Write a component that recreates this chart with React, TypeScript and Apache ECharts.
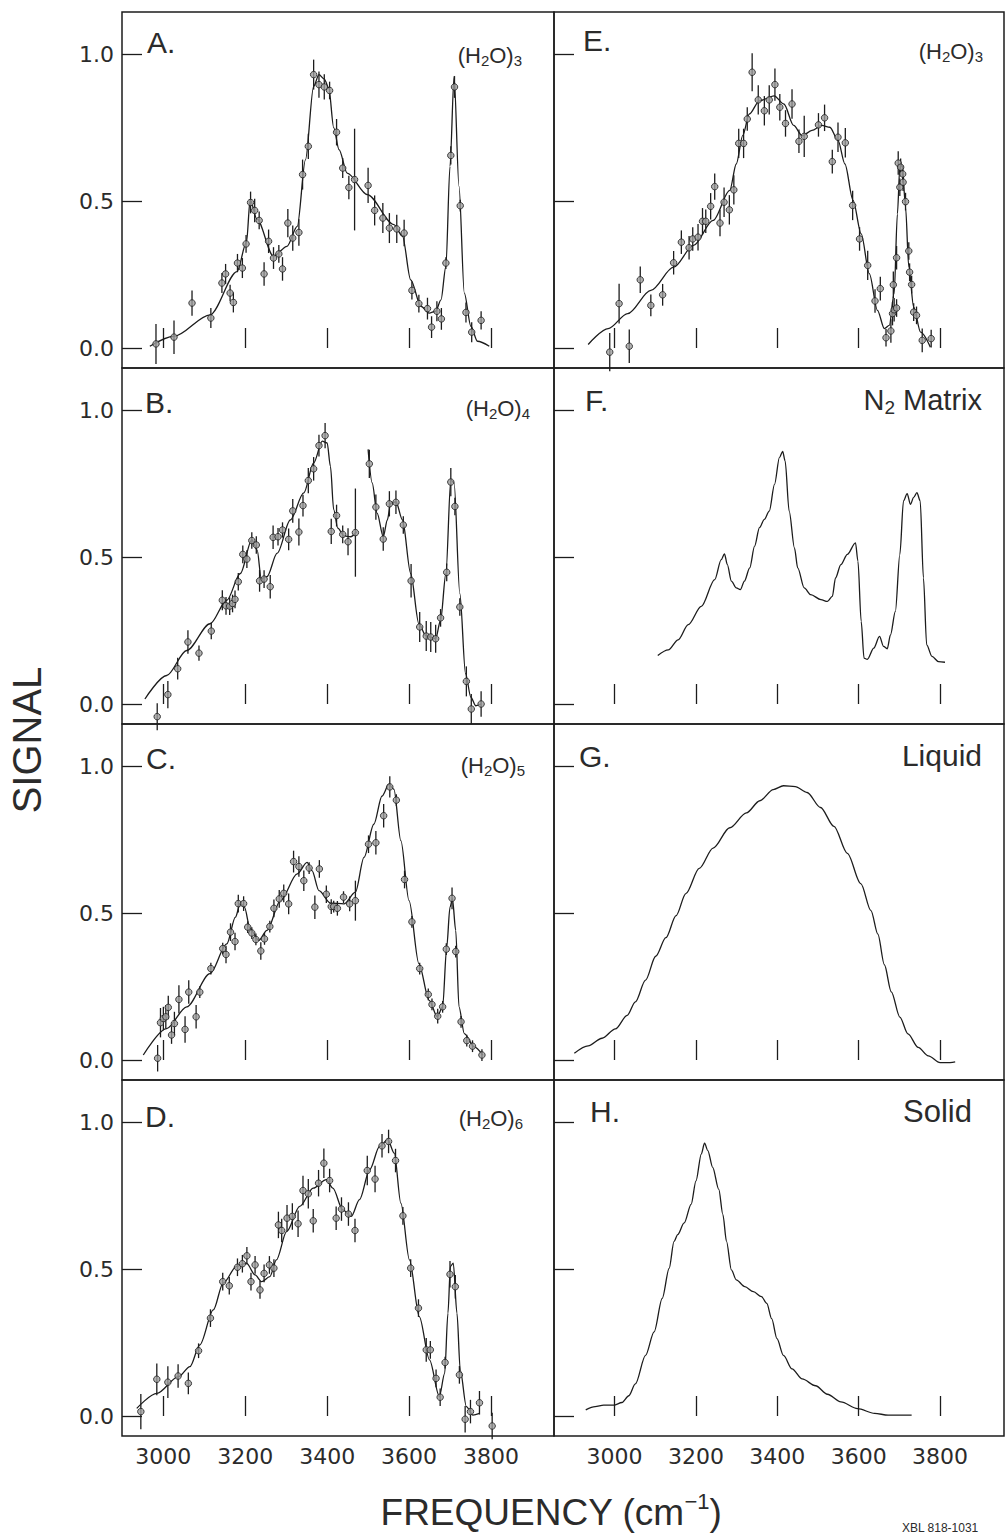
import React, { useEffect, useRef } from "react";
import * as echarts from "echarts";

const FONT = "'Liberation Sans', Arial, Helvetica, sans-serif";
const NUMFONT = "'DejaVu Sans', Verdana, sans-serif";
const INK = "#1c1c1c";
const TXT = "#2b2b2b";

const xTicks = [3000, 3200, 3400, 3600, 3800];
const yTicks = [0, 0.5, 1.0];

// [frequency, signal, half error bar]
const pointsA = [
  [2982, 0.014, 0.068], [3026, 0.037, 0.057], [3070, 0.153, 0.043], [3116, 0.102, 0.034],
  [3143, 0.221, 0.034], [3152, 0.252, 0.034], [3163, 0.187, 0.028], [3171, 0.155, 0.034],
  [3181, 0.289, 0.031], [3193, 0.272, 0.034], [3202, 0.354, 0.03], [3213, 0.495, 0.037],
  [3223, 0.468, 0.04], [3234, 0.434, 0.03], [3246, 0.252, 0.04], [3257, 0.363, 0.04],
  [3269, 0.306, 0.037], [3282, 0.32, 0.03], [3291, 0.269, 0.04], [3304, 0.425, 0.048],
  [3316, 0.374, 0.043], [3331, 0.393, 0.045], [3340, 0.59, 0.051], [3354, 0.686, 0.043],
  [3367, 0.93, 0.051], [3380, 0.896, 0.045], [3393, 0.888, 0.043], [3406, 0.876, 0.03],
  [3423, 0.734, 0.045], [3438, 0.612, 0.034], [3453, 0.546, 0.04], [3467, 0.573, 0.173],
  [3500, 0.553, 0.06], [3516, 0.468, 0.051], [3536, 0.442, 0.051], [3552, 0.408, 0.051],
  [3570, 0.405, 0.048], [3588, 0.391, 0.045], [3607, 0.196, 0.031], [3624, 0.151, 0.03],
  [3645, 0.134, 0.037], [3655, 0.071, 0.037], [3668, 0.125, 0.034], [3679, 0.099, 0.037],
  [3690, 0.289, 0.02], [3702, 0.655, 0.031], [3711, 0.888, 0.037], [3725, 0.484, 0.02],
  [3739, 0.121, 0.034], [3753, 0.054, 0.034], [3776, 0.094, 0.031],
];
const fitA = [
  [2967, 0.006], [3026, 0.04], [3114, 0.113], [3180, 0.26], [3203, 0.36], [3212, 0.505],
  [3228, 0.44], [3269, 0.312], [3302, 0.346], [3327, 0.414], [3347, 0.64], [3367, 0.89],
  [3380, 0.93], [3393, 0.915], [3404, 0.884], [3416, 0.75], [3429, 0.675], [3449, 0.595],
  [3498, 0.522], [3563, 0.42], [3584, 0.38], [3604, 0.232], [3629, 0.142], [3649, 0.119],
  [3665, 0.125], [3678, 0.164], [3690, 0.278], [3700, 0.618], [3710, 0.924], [3722, 0.55],
  [3735, 0.187], [3751, 0.074], [3767, 0.023], [3796, 0.006],
];

const pointsB = [
  [2985, -0.043, 0.046], [3011, 0.032, 0.046], [3035, 0.12, 0.037], [3060, 0.211, 0.04],
  [3087, 0.173, 0.026], [3117, 0.248, 0.028], [3144, 0.353, 0.034], [3153, 0.334, 0.03],
  [3162, 0.333, 0.03], [3169, 0.342, 0.03], [3175, 0.356, 0.03], [3183, 0.416, 0.03],
  [3194, 0.509, 0.03], [3204, 0.493, 0.03], [3216, 0.556, 0.028], [3227, 0.541, 0.03],
  [3235, 0.419, 0.037], [3246, 0.425, 0.03], [3261, 0.399, 0.04], [3268, 0.567, 0.04],
  [3280, 0.569, 0.03], [3291, 0.592, 0.026], [3306, 0.56, 0.037], [3316, 0.657, 0.04],
  [3331, 0.585, 0.046], [3341, 0.675, 0.037], [3354, 0.76, 0.043], [3367, 0.8, 0.04],
  [3380, 0.879, 0.037], [3395, 0.913, 0.043], [3410, 0.587, 0.043], [3423, 0.641, 0.037],
  [3438, 0.577, 0.03], [3451, 0.552, 0.046], [3469, 0.583, 0.15], [3503, 0.817, 0.048],
  [3519, 0.67, 0.043], [3537, 0.561, 0.04], [3552, 0.681, 0.043], [3568, 0.686, 0.04],
  [3586, 0.609, 0.03], [3605, 0.419, 0.057], [3626, 0.262, 0.051], [3642, 0.231, 0.051],
  [3653, 0.228, 0.051], [3665, 0.222, 0.048], [3677, 0.293, 0.03], [3692, 0.448, 0.03],
  [3702, 0.755, 0.048], [3712, 0.672, 0.03], [3724, 0.33, 0.03], [3740, 0.077, 0.051],
  [3752, -0.017, 0.051], [3776, 0.0, 0.043],
];
const fitB1 = [
  [2955, 0.017], [3008, 0.097], [3057, 0.182], [3114, 0.273], [3155, 0.353], [3188, 0.444],
  [3216, 0.558], [3229, 0.524], [3239, 0.427], [3253, 0.433], [3278, 0.513], [3310, 0.626],
  [3343, 0.718], [3367, 0.82], [3388, 0.894], [3400, 0.888], [3408, 0.809], [3416, 0.661],
  [3426, 0.598], [3441, 0.572], [3457, 0.569], [3472, 0.586],
];
const fitB2 = [
  [3500, 0.866], [3510, 0.752], [3522, 0.649], [3537, 0.569], [3547, 0.626], [3555, 0.683],
  [3568, 0.688], [3584, 0.626], [3604, 0.444], [3624, 0.273], [3641, 0.233], [3665, 0.222],
  [3677, 0.285], [3690, 0.444], [3702, 0.763], [3710, 0.752], [3724, 0.376], [3738, 0.103],
  [3751, 0.023], [3763, -0.006], [3776, 0.0],
];

const pointsC = [
  [2986, 0.006, 0.045], [2993, 0.127, 0.05], [3000, 0.141, 0.04], [3006, 0.147, 0.04],
  [3012, 0.179, 0.04], [3020, 0.085, 0.03], [3027, 0.124, 0.04], [3038, 0.206, 0.048],
  [3053, 0.104, 0.045], [3062, 0.231, 0.04], [3080, 0.147, 0.04], [3089, 0.231, 0.02],
  [3116, 0.311, 0.02], [3145, 0.379, 0.02], [3153, 0.359, 0.03], [3164, 0.435, 0.03],
  [3175, 0.403, 0.03], [3183, 0.532, 0.03], [3196, 0.532, 0.025], [3206, 0.452, 0.02],
  [3216, 0.432, 0.02], [3226, 0.41, 0.02], [3238, 0.371, 0.03], [3247, 0.412, 0.02],
  [3260, 0.454, 0.02], [3270, 0.516, 0.03], [3283, 0.548, 0.03], [3294, 0.567, 0.03],
  [3306, 0.531, 0.035], [3318, 0.675, 0.037], [3331, 0.658, 0.035], [3343, 0.61, 0.035],
  [3356, 0.653, 0.02], [3370, 0.52, 0.04], [3381, 0.65, 0.03], [3398, 0.564, 0.03],
  [3410, 0.522, 0.025], [3416, 0.522, 0.02], [3425, 0.516, 0.025], [3440, 0.554, 0.02],
  [3455, 0.531, 0.025], [3469, 0.542, 0.068], [3501, 0.734, 0.03], [3519, 0.739, 0.04],
  [3538, 0.831, 0.04], [3553, 0.929, 0.036], [3569, 0.884, 0.02], [3589, 0.614, 0.03],
  [3607, 0.47, 0.02], [3626, 0.311, 0.02], [3647, 0.223, 0.02], [3656, 0.189, 0.02],
  [3670, 0.149, 0.025], [3682, 0.181, 0.02], [3691, 0.377, 0.02], [3705, 0.55, 0.037],
  [3714, 0.369, 0.02], [3727, 0.13, 0.02], [3741, 0.066, 0.02], [3755, 0.047, 0.02],
  [3778, 0.017, 0.02],
];
const fitC = [
  [2951, 0.017], [3008, 0.107], [3057, 0.181], [3114, 0.294], [3155, 0.395], [3176, 0.486],
  [3188, 0.533], [3198, 0.52], [3212, 0.446], [3233, 0.407], [3253, 0.441], [3286, 0.542],
  [3327, 0.633], [3351, 0.672], [3363, 0.644], [3380, 0.576], [3408, 0.534], [3441, 0.531],
  [3469, 0.571], [3490, 0.689], [3514, 0.802], [3534, 0.898], [3551, 0.938], [3563, 0.921],
  [3580, 0.746], [3600, 0.542], [3624, 0.328], [3649, 0.203], [3669, 0.147], [3682, 0.181],
  [3692, 0.384], [3700, 0.52], [3706, 0.548], [3714, 0.441], [3722, 0.181], [3735, 0.09],
  [3759, 0.045], [3780, 0.017],
];

const pointsD = [
  [2945, 0.015, 0.06], [2984, 0.125, 0.054], [3011, 0.115, 0.054], [3036, 0.136, 0.04],
  [3061, 0.111, 0.037], [3086, 0.222, 0.025], [3115, 0.333, 0.03], [3145, 0.457, 0.03],
  [3161, 0.443, 0.03], [3181, 0.506, 0.03], [3193, 0.518, 0.03], [3204, 0.545, 0.03],
  [3214, 0.457, 0.03], [3224, 0.514, 0.03], [3236, 0.429, 0.03], [3246, 0.485, 0.03],
  [3259, 0.514, 0.03], [3270, 0.503, 0.03], [3281, 0.65, 0.045], [3289, 0.631, 0.04],
  [3302, 0.673, 0.045], [3315, 0.679, 0.045], [3329, 0.654, 0.045], [3341, 0.767, 0.05],
  [3354, 0.756, 0.05], [3366, 0.664, 0.04], [3379, 0.792, 0.045], [3392, 0.86, 0.05],
  [3406, 0.801, 0.04], [3422, 0.673, 0.04], [3435, 0.704, 0.04], [3452, 0.687, 0.04],
  [3468, 0.631, 0.04], [3498, 0.835, 0.05], [3517, 0.806, 0.045], [3534, 0.919, 0.04],
  [3550, 0.934, 0.04], [3567, 0.869, 0.04], [3585, 0.681, 0.03], [3604, 0.503, 0.03],
  [3623, 0.367, 0.03], [3642, 0.225, 0.04], [3652, 0.225, 0.03], [3666, 0.128, 0.03],
  [3676, 0.064, 0.03], [3688, 0.182, 0.02], [3700, 0.482, 0.045], [3713, 0.44, 0.04],
  [3723, 0.14, 0.03], [3737, -0.011, 0.045], [3750, 0.015, 0.04], [3772, 0.045, 0.04],
  [3803, -0.034, 0.045],
];
const fitD = [
  [2935, 0.026], [2984, 0.077], [3037, 0.134], [3065, 0.168], [3089, 0.242], [3122, 0.361],
  [3146, 0.452], [3179, 0.509], [3203, 0.52], [3224, 0.48], [3240, 0.457], [3260, 0.474],
  [3276, 0.531], [3301, 0.627], [3333, 0.713], [3366, 0.775], [3398, 0.804], [3414, 0.775],
  [3438, 0.701], [3459, 0.679], [3479, 0.736], [3504, 0.838], [3528, 0.917], [3548, 0.94],
  [3564, 0.894], [3580, 0.724], [3601, 0.531], [3625, 0.338], [3650, 0.191], [3674, 0.066],
  [3687, 0.145], [3695, 0.35], [3701, 0.509], [3708, 0.52], [3717, 0.35], [3725, 0.157],
  [3740, 0.032], [3756, 0.003], [3772, 0.009],
];

const pointsE = [
  [2988, -0.014, 0.065], [3011, 0.151, 0.068], [3036, 0.006, 0.057], [3063, 0.232, 0.045],
  [3089, 0.145, 0.037], [3118, 0.181, 0.037], [3145, 0.29, 0.04], [3164, 0.36, 0.04],
  [3183, 0.341, 0.04], [3192, 0.371, 0.04], [3205, 0.377, 0.045], [3216, 0.431, 0.045],
  [3224, 0.431, 0.04], [3236, 0.482, 0.045], [3246, 0.549, 0.045], [3259, 0.425, 0.045],
  [3269, 0.496, 0.05], [3282, 0.47, 0.05], [3293, 0.538, 0.05], [3305, 0.696, 0.05],
  [3317, 0.696, 0.05], [3326, 0.779, 0.04], [3338, 0.938, 0.065], [3353, 0.844, 0.05],
  [3368, 0.807, 0.05], [3380, 0.844, 0.05], [3394, 0.896, 0.055], [3406, 0.819, 0.045],
  [3420, 0.764, 0.045], [3436, 0.83, 0.05], [3453, 0.703, 0.04], [3466, 0.72, 0.07],
  [3501, 0.759, 0.04], [3516, 0.783, 0.045], [3535, 0.634, 0.04], [3549, 0.717, 0.05],
  [3567, 0.698, 0.05], [3585, 0.485, 0.05], [3602, 0.371, 0.04], [3622, 0.281, 0.05],
  [3640, 0.16, 0.04], [3653, 0.202, 0.04], [3667, 0.035, 0.03], [3679, 0.058, 0.04],
  [3683, 0.117, 0.04], [3687, 0.13, 0.04], [3693, 0.136, 0.03], [3685, 0.215, 0.045],
  [3693, 0.307, 0.04], [3697, 0.629, 0.04], [3703, 0.615, 0.03], [3708, 0.592, 0.03],
  [3701, 0.547, 0.03], [3709, 0.564, 0.03], [3715, 0.498, 0.03], [3723, 0.33, 0.03],
  [3725, 0.258, 0.03], [3730, 0.216, 0.03], [3735, 0.122, 0.03], [3742, 0.111, 0.03],
  [3756, 0.026, 0.04], [3778, 0.032, 0.03],
];
const fitE = [
  [2935, 0.012], [2984, 0.066], [3032, 0.117], [3089, 0.196], [3145, 0.275], [3194, 0.349],
  [3242, 0.434], [3283, 0.536], [3299, 0.626], [3315, 0.723], [3331, 0.796], [3356, 0.841],
  [3392, 0.858], [3416, 0.83], [3440, 0.757], [3461, 0.722], [3485, 0.74], [3509, 0.757],
  [3529, 0.751], [3549, 0.706], [3566, 0.626], [3586, 0.502], [3606, 0.388], [3626, 0.253],
  [3646, 0.128], [3663, 0.066], [3675, 0.077], [3687, 0.185], [3695, 0.456], [3701, 0.615],
  [3707, 0.621], [3715, 0.479], [3723, 0.275], [3735, 0.139], [3752, 0.054], [3776, 0.003],
];

const curveF = [
  [3106, 0.165], [3132, 0.184], [3156, 0.218], [3181, 0.27], [3213, 0.332], [3246, 0.423],
  [3262, 0.491], [3270, 0.511], [3277, 0.474], [3287, 0.418], [3299, 0.395], [3309, 0.389],
  [3319, 0.418], [3332, 0.463], [3344, 0.537], [3356, 0.6], [3368, 0.628], [3380, 0.656],
  [3393, 0.747], [3405, 0.838], [3413, 0.859], [3419, 0.827], [3429, 0.656], [3442, 0.531],
  [3450, 0.463], [3466, 0.395], [3482, 0.372], [3507, 0.355], [3523, 0.349], [3535, 0.366],
  [3543, 0.429], [3556, 0.474], [3572, 0.509], [3592, 0.548], [3598, 0.486], [3606, 0.281],
  [3613, 0.156], [3621, 0.152], [3637, 0.19], [3651, 0.23], [3661, 0.196], [3670, 0.188],
  [3678, 0.235], [3690, 0.315], [3701, 0.509], [3710, 0.691], [3719, 0.716], [3727, 0.679],
  [3735, 0.703], [3743, 0.719], [3751, 0.691], [3759, 0.429], [3767, 0.201], [3780, 0.162],
  [3796, 0.144], [3812, 0.142],
];
const curveG = [
  [2901, 0.023], [2935, 0.048], [2969, 0.074], [3002, 0.106], [3031, 0.152], [3051, 0.198],
  [3076, 0.272], [3101, 0.353], [3126, 0.416], [3151, 0.491], [3175, 0.566], [3208, 0.652],
  [3242, 0.721], [3283, 0.79], [3324, 0.841], [3357, 0.882], [3390, 0.92], [3415, 0.933],
  [3444, 0.93], [3473, 0.91], [3506, 0.859], [3539, 0.795], [3572, 0.703], [3605, 0.6],
  [3630, 0.508], [3647, 0.428], [3663, 0.324], [3680, 0.232], [3701, 0.146], [3721, 0.089],
  [3746, 0.043], [3771, 0.014], [3800, -0.009], [3816, -0.009], [3837, -0.006],
];
const curveH = [
  [2929, 0.021], [2952, 0.032], [2973, 0.037], [2998, 0.037], [3018, 0.046], [3035, 0.069],
  [3051, 0.109], [3076, 0.206], [3097, 0.286], [3117, 0.4], [3134, 0.502], [3146, 0.594],
  [3155, 0.617], [3171, 0.657], [3188, 0.72], [3200, 0.8], [3213, 0.891], [3221, 0.928],
  [3229, 0.903], [3241, 0.846], [3256, 0.771], [3266, 0.686], [3275, 0.594], [3287, 0.497],
  [3299, 0.463], [3320, 0.44], [3341, 0.423], [3361, 0.406], [3374, 0.383], [3386, 0.331],
  [3399, 0.263], [3415, 0.206], [3436, 0.16], [3461, 0.126], [3494, 0.103], [3523, 0.074],
  [3556, 0.048], [3597, 0.025], [3639, 0.009], [3672, 0.003], [3730, 0.003],
];

const panelLetters = ["A.", "B.", "C.", "D.", "E.", "F.", "G.", "H."];
const panelTags = ["(H2O)3", "(H2O)4", "(H2O)5", "(H2O)6", "(H2O)3", "N2 Matrix", "Liquid", "Solid"];

// layout (pixels)
const COL_LEFT = [122, 554];
const COL_WIDTH = [432, 450];
const COL_XMIN = [2899, 2851];
const COL_XMAX = [3954, 3957];
const ROW_TOP = [12, 368, 724, 1080];
const ROW_H = 356;
const Y_MIN = -0.068;
const Y_MAX = 1.143;

const letterPos = [
  [147, 42], [145, 402], [146, 758], [145, 1116],
  [583, 40], [585, 400], [579, 756], [590, 1111],
];
const tagPos = [
  [522, 55], [530, 408], [525, 765], [523, 1118],
  [983, 51], [982, 400], [982, 755], [972, 1111],
];

function tagRich(tag: string) {
  // converts "(H2O)3" style chemistry to rich-text with subscripts
  const m = tag.match(/^\(H2O\)(\d)$/);
  if (m) return `{n|(H}{s|2}{n|O)}{s|${m[1]}}`;
  if (tag.startsWith("N2")) return `{n|N}{s|2}{n|${tag.slice(2)}}`;
  return `{n|${tag}}`;
}

export default function App() {
  const ref = useRef<HTMLDivElement>(null);
  useEffect(() => {
    if (!ref.current) return;
    const chart = echarts.init(ref.current, undefined, { renderer: "svg" });

    const panels = [
      { pts: pointsA, fits: [fitA] },
      { pts: pointsB, fits: [fitB1, fitB2] },
      { pts: pointsC, fits: [fitC] },
      { pts: pointsD, fits: [fitD] },
      { pts: pointsE, fits: [fitE] },
      { pts: null, fits: [curveF] },
      { pts: null, fits: [curveG] },
      { pts: null, fits: [curveH] },
    ];

    const grids: any[] = [];
    const xAxes: any[] = [];
    const yAxes: any[] = [];
    const series: any[] = [];
    const graphics: any[] = [];

    panels.forEach((p, i) => {
      const col = i < 4 ? 0 : 1;
      const row = i % 4;
      grids.push({
        left: COL_LEFT[col],
        top: ROW_TOP[row],
        width: COL_WIDTH[col],
        height: ROW_H,
        show: true,
        borderColor: INK,
        borderWidth: 1.5,
        backgroundColor: "transparent",
      });
      xAxes.push({
        type: "value",
        gridIndex: i,
        min: COL_XMIN[col],
        max: COL_XMAX[col],
        axisLine: { show: false },
        splitLine: { show: false },
        axisTick: {
          show: true,
          inside: true,
          length: 20,
          customValues: xTicks,
          lineStyle: { color: INK, width: 1.3 },
        },
        axisLabel: {
          show: row === 3,
          customValues: xTicks,
          formatter: (v: number) => String(Math.round(v)),
          fontFamily: NUMFONT,
          fontSize: 22,
          color: TXT,
          margin: 9,
        },
      });
      yAxes.push({
        type: "value",
        gridIndex: i,
        min: Y_MIN,
        max: Y_MAX,
        axisLine: { show: false },
        splitLine: { show: false },
        axisTick: {
          show: true,
          inside: true,
          length: 20,
          customValues: yTicks,
          lineStyle: { color: INK, width: 1.3 },
        },
        axisLabel: {
          show: col === 0,
          customValues: yTicks,
          formatter: (v: number) => v.toFixed(1),
          fontFamily: NUMFONT,
          fontSize: 22,
          color: TXT,
          margin: 8,
        },
      });

      p.fits.forEach((f) => {
        series.push({
          type: "line",
          xAxisIndex: i,
          yAxisIndex: i,
          data: f,
          symbol: "none",
          showSymbol: false,
          smooth: 0.3,
          smoothMonotone: "x",
          lineStyle: { color: INK, width: 1.3 },
          silent: true,
          z: 2,
        });
      });
      if (p.pts) {
        series.push({
          type: "custom",
          xAxisIndex: i,
          yAxisIndex: i,
          data: p.pts,
          dimensions: ["x", "y", "e"],
          encode: { x: 0, y: 1 },
          silent: true,
          z: 3,
          renderItem: (_params: any, api: any) => {
            const x = api.value(0);
            const y = api.value(1);
            const e = api.value(2);
            const a = api.coord([x, y + e]);
            const b = api.coord([x, y - e]);
            return {
              type: "line",
              shape: { x1: a[0], y1: a[1], x2: b[0], y2: b[1] },
              style: { stroke: INK, lineWidth: 1.3 },
            };
          },
        });
        series.push({
          type: "scatter",
          xAxisIndex: i,
          yAxisIndex: i,
          data: p.pts.map((d) => [d[0], d[1]]),
          symbol: "circle",
          symbolSize: 6.5,
          itemStyle: { color: "#9c9c9c", borderColor: INK, borderWidth: 1 },
          silent: true,
          z: 4,
        });
      }

      graphics.push({
        type: "text",
        x: letterPos[i][0],
        y: letterPos[i][1],
        silent: true,
        style: {
          text: panelLetters[i],
          fontFamily: FONT,
          fontSize: 30,
          fill: TXT,
          align: "left",
          verticalAlign: "middle",
        },
      });
      const mainSize = i < 5 ? 22 : i === 5 ? 29 : i === 6 ? 30 : 31;
      const subSize = i < 5 ? 15 : 19;
      graphics.push({
        type: "text",
        x: tagPos[i][0],
        y: tagPos[i][1],
        silent: true,
        style: {
          text: tagRich(panelTags[i]),
          align: "right",
          verticalAlign: "middle",
          rich: {
            n: {
              fontFamily: FONT,
              fontSize: mainSize,
              fill: TXT,
              color: TXT,
              lineHeight: mainSize + 4,
              verticalAlign: "middle",
            },
            s: {
              fontFamily: FONT,
              fontSize: subSize,
              fill: TXT,
              color: TXT,
              lineHeight: i < 5 ? 12 : 14,
              verticalAlign: "bottom",
            },
          },
        },
      });
    });

    graphics.push({
      type: "text",
      x: 27,
      y: 740,
      rotation: Math.PI / 2,
      silent: true,
      style: {
        text: "SIGNAL",
        fontFamily: FONT,
        fontSize: 40,
        fill: TXT,
        align: "center",
        verticalAlign: "middle",
      },
    });
    graphics.push({
      type: "text",
      x: 551,
      y: 1512,
      silent: true,
      style: {
        text: "{m|FREQUENCY (cm}{p|−1}{m|)}",
        align: "center",
        verticalAlign: "middle",
        rich: {
          m: { fontFamily: FONT, fontSize: 37, fill: TXT, color: TXT, lineHeight: 44, verticalAlign: "middle" },
          p: { fontFamily: FONT, fontSize: 22, fill: TXT, color: TXT, lineHeight: 30, verticalAlign: "top" },
        },
      },
    });
    graphics.push({
      type: "text",
      x: 902,
      y: 1522,
      silent: true,
      style: {
        text: "XBL 818-1031",
        fontFamily: FONT,
        fontSize: 12,
        fill: TXT,
        align: "left",
        verticalAlign: "top",
      },
    });

    chart.setOption({
      animation: false,
      backgroundColor: "#ffffff",
      grid: grids,
      xAxis: xAxes,
      yAxis: yAxes,
      series,
      graphic: { elements: graphics },
    });
    return () => chart.dispose();
  }, []);

  return (
    <div
      ref={ref}
      style={{ position: "absolute", left: 0, top: 0, width: 1005, height: 1536 }}
    />
  );
}
